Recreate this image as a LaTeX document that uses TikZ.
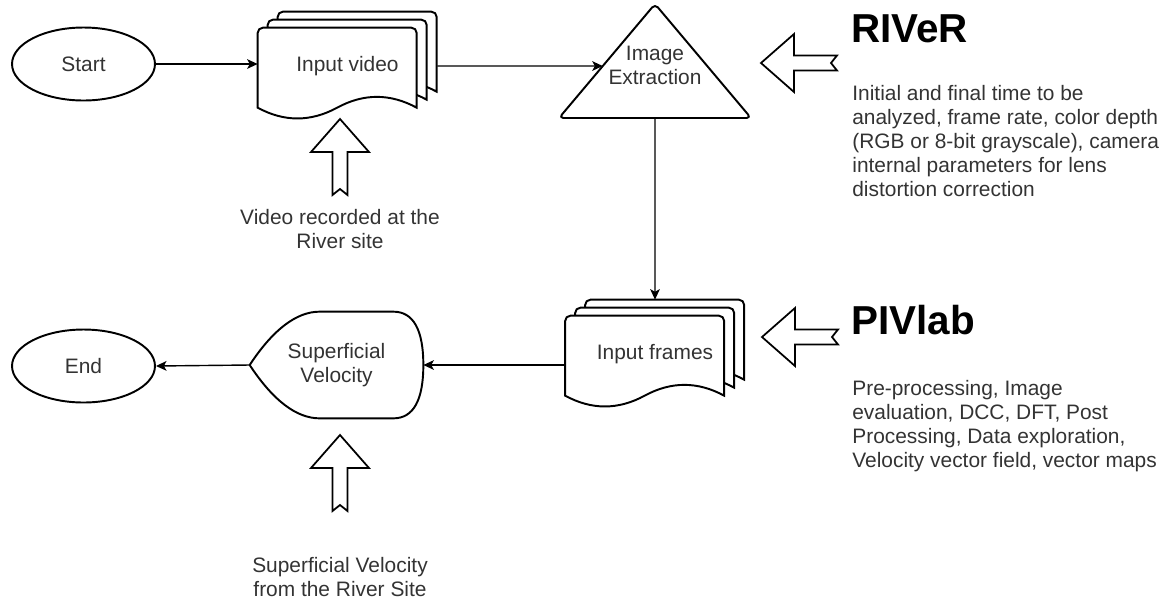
\documentclass[tikz,border=0pt]{standalone}
\usepackage{fontspec}
\setmainfont{Liberation Sans}
\usepackage{tikz}
\usetikzlibrary{arrows.meta,positioning,calc,backgrounds,shapes.geometric}

% one sheet of a document stack, offset from the stack's north west corner
\newcommand{\docsheet}[3]{%
  \draw[sheet] ($(#1.north west)+(#2,#3+80)$) [rounded corners=3pt] -- ($(#1.north west)+(#2,#3)$) -- ($(#1.north west)+(#2+159,#3)$) [sharp corners] -- ($(#1.north west)+(#2+159,#3+80)$)
    .. controls ($(#1.north west)+(#2+132.5,#3+65.6)$) and ($(#1.north west)+(#2+106,#3+65.6)$) .. ($(#1.north west)+(#2+79.5,#3+80)$)
    .. controls ($(#1.north west)+(#2+53,#3+94.4)$) and ($(#1.north west)+(#2+26.5,#3+94.4)$) .. ($(#1.north west)+(#2,#3+80)$) -- cycle;}
\newcommand{\docstack}[1]{\docsheet{#1}{20}{0}\docsheet{#1}{10}{8}\docsheet{#1}{0}{16}}
% hollow block arrow, apex at (#1,#2)
\newcommand{\hollowarrow}[3]{%
  \draw[hollow, shift={(#1,#2)}, rotate=#3] (0,0) -- (29,33) -- (7.5,33) -- (7.5,76) -- (0,70) -- (-7.5,76) -- (-7.5,33) -- (-29,33) -- cycle;}

\begin{document}
\begin{tikzpicture}[
    x=0.02cm, y=-0.02cm,
    font=\fontsize{11.9pt}{13.6pt}\selectfont,
    terminal/.style={ellipse, draw, line width=1.1pt, minimum width=2.86cm, minimum height=1.46cm, inner sep=0pt, text=black!80},
    stackbox/.style={rectangle, minimum width=3.58cm, minimum height=2.16cm, inner sep=0pt, text=black!80},
    velobox/.style={rectangle, minimum width=3.46cm, minimum height=2.12cm, inner sep=0pt, align=center, text=black!80},
    sheet/.style={draw, fill=white, line width=1.1pt},
    shapeline/.style={draw, fill=white, line width=1.1pt, line join=round},
    hollow/.style={draw, fill=white, line width=1pt},
    note/.style={align=center, text=black!80},
    title/.style={font=\fontsize{23pt}{27pt}\selectfont\bfseries, anchor=west, inner sep=0pt},
    desc/.style={align=left, anchor=north west, inner sep=0pt, text=black!80},
    arrow/.style={-{Stealth[length=6pt,width=5.5pt,inset=1.5pt]}, line width=0.8pt}
]
\useasboundingbox (0,0) rectangle (1170,603);

\node[terminal] (start) at (83.5,64) {Start};
\node[stackbox] (video) at (347.5,66) {Input video\hspace{0.4cm}};
\coordinate (exl) at (559,118);
\coordinate (ext) at (655,4);
\coordinate (exr) at (751,118);
\node[note] (extract) at (655,65.5) {Image\\Extraction};
\node[stackbox] (frames) at (655,354) {Input frames\hspace{0.4cm}};
\node[velobox] (velo) at (336.5,365) {Superficial\\Velocity};
\node[terminal] (end) at (83.5,366) {End};

\begin{scope}[on background layer]
\docstack{video}
\docstack{frames}
\draw[shapeline, rounded corners=2.5pt] (exl) -- (ext) -- (exr) -- cycle;
\draw[shapeline] (velo.west) .. controls ($(velo.west)+(23.3,-35.3)$) and ($(velo.north west)+(46.7,0)$) .. ($(velo.north west)+(70,0)$)
    -- ($(velo.north east)+(-30,0)$) .. controls ($(velo.north east)+(-10,0)$) and ($(velo.east)+(0,-35.3)$) .. (velo.east)
    .. controls ($(velo.east)+(0,35.3)$) and ($(velo.south east)+(-10,0)$) .. ($(velo.south east)+(-30,0)$)
    -- ($(velo.south west)+(70,0)$) .. controls ($(velo.south west)+(46.7,0)$) and ($(velo.west)+(23.3,35.3)$) .. (velo.west) -- cycle;
\end{scope}

\coordinate (exin) at ($(exl)!0.456!(ext)$);
\coordinate (exbase) at ($(exl)!0.5!(exr)$);
\draw[arrow] (start.east) -- (start.east -| video.west);
\draw[arrow] (video.east) -- (exin);
\draw[arrow] (exbase) -- (frames.north);
\draw[arrow] (frames.west |- velo.east) -- (velo.east);
\draw[arrow] (velo.west) -- (end.east);

% inputs of each step
\hollowarrow{340}{119}{0}
\hollowarrow{340}{435}{0}
\hollowarrow{761}{63}{90}
\hollowarrow{762}{337}{90}
\node[note] (videonote) at (340,229) {Video recorded at the\\River site};
\node[note] (velonote) at (340,577) {Superficial Velocity\\from the River Site};
\node[title] (river) at (851,29) {RIVeR};
\node[desc] (rivernote) at (852,85) {Initial and final time to be\\analyzed, frame rate, color depth\\(RGB or 8-bit grayscale), camera\\internal parameters for lens\\distortion correction};
\node[title] (pivlab) at (851,320) {PIVlab};
\node[desc] (pivnote) at (852,380) {Pre-processing, Image\\evaluation, DCC, DFT, Post\\Processing, Data exploration,\\Velocity vector field, vector maps};
\end{tikzpicture}
\end{document}
